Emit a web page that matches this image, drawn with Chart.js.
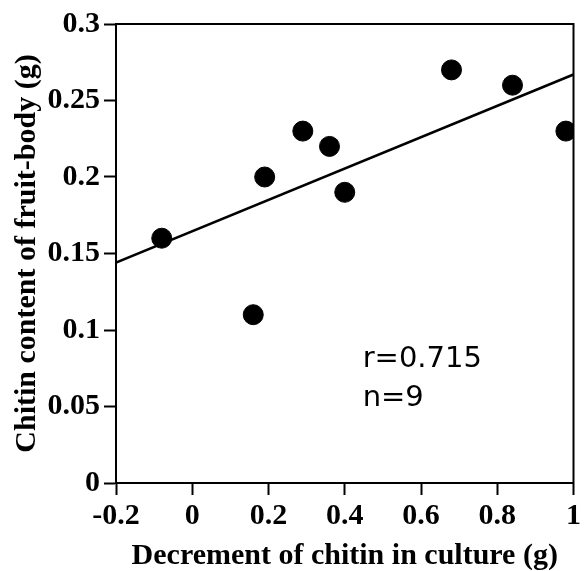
<!DOCTYPE html>
<html>
<head>
<meta charset="utf-8">
<script src="https://cdn.jsdelivr.net/npm/chart.js@4/dist/chart.umd.min.js"></script>
<style>
  html, body { margin: 0; padding: 0; background: #fff; }
  #wrap { width: 587px; height: 571px; }
</style>
</head>
<body>
<div id="wrap"><canvas id="chitinChart"></canvas></div>
<script>
// decrement of chitin in culture (g) vs chitin in fruit-body (g)
const decrementX = [-0.08, 0.16, 0.19, 0.29, 0.36, 0.40, 0.68, 0.84, 0.98];
const contentY = [0.16, 0.11, 0.20, 0.23, 0.22, 0.19, 0.27, 0.26, 0.23];

// fitted regression line end points
const fitX = [-0.2, 1];
const fitY = [0.144, 0.267];

const xTicks = [-0.2, 0, 0.2, 0.4, 0.6, 0.8, 1];
const yTicks = [0, 0.05, 0.1, 0.15, 0.2, 0.25, 0.3];

const statLines = ["r=0.715", "n=9"];
const statPos = { x: 0.447, y: 0.0758 };

const serif = "'Liberation Serif', 'Times New Roman', serif";

// box around the plot + stats text
const framePlugin = {
  id: "frame",
  afterDatasetsDraw(chart) {
    const { ctx, chartArea: a, scales } = chart;
    ctx.save();
    ctx.strokeStyle = "#000";
    ctx.lineWidth = 2;
    ctx.strokeRect(a.left, a.top, a.right - a.left, a.bottom - a.top);

    ctx.fillStyle = "#000";
    ctx.font = "29px 'DejaVu Sans', sans-serif";
    ctx.textBaseline = "alphabetic";
    ctx.textAlign = "left";
    const px = scales.x.getPixelForValue(statPos.x);
    const py = scales.y.getPixelForValue(statPos.y);
    statLines.forEach((t, i) => ctx.fillText(t, px, py + i * 39));
    ctx.restore();
  }
};

const ctx = document.getElementById("chitinChart").getContext("2d");
new Chart(ctx, {
  type: "scatter",
  data: {
    datasets: [
      {
        label: "fit",
        type: "line",
        data: fitX.map((x, i) => ({ x: x, y: fitY[i] })),
        borderColor: "#000",
        borderWidth: 2.5,
        pointRadius: 0,
        fill: false,
        order: 2
      },
      {
        label: "samples",
        data: decrementX.map((x, i) => ({ x: x, y: contentY[i] })),
        backgroundColor: "#000",
        borderColor: "#000",
        pointRadius: 10,
        pointHoverRadius: 10,
        order: 1
      }
    ]
  },
  options: {
    responsive: true,
    maintainAspectRatio: false,
    animation: false,
    layout: { padding: { top: 24, right: 10, left: 0, bottom: 0 } },
    plugins: {
      legend: { display: false },
      tooltip: { enabled: false }
    },
    scales: {
      x: {
        type: "linear",
        min: -0.2,
        max: 1,
        afterBuildTicks: s => { s.ticks = xTicks.map(v => ({ value: v })); },
        afterFit: s => { s.height = 88; },
        grid: { drawOnChartArea: false, tickLength: 12, tickColor: "#000", tickWidth: 2 },
        border: { color: "#000", width: 2 },
        ticks: {
          color: "#000",
          padding: 6,
          maxRotation: 0,
          font: { family: serif, size: 30, weight: "bold", lineHeight: 1 },
          callback: v => String(Math.round(v * 10) / 10)
        },
        title: {
          display: true,
          text: "Decrement of chitin in culture (g)",
          color: "#000",
          padding: { top: 10, bottom: 0 },
          font: { family: serif, size: 30, weight: "bold", lineHeight: 1 }
        }
      },
      y: {
        type: "linear",
        min: 0,
        max: 0.3,
        afterBuildTicks: s => { s.ticks = yTicks.map(v => ({ value: v })); },
        afterFit: s => { s.width = 116; },
        grid: { drawOnChartArea: false, tickLength: 12, tickColor: "#000", tickWidth: 2 },
        border: { color: "#000", width: 2 },
        ticks: {
          color: "#000",
          padding: 4,
          font: { family: serif, size: 30, weight: "bold", lineHeight: 1 },
          callback: v => String(Math.round(v * 100) / 100)
        },
        title: {
          display: true,
          text: "Chitin content of fruit-body (g)",
          color: "#000",
          padding: { top: 12, bottom: 0 },
          font: { family: serif, size: 30, weight: "bold", lineHeight: 1 }
        }
      }
    }
  },
  plugins: [framePlugin]
});
</script>
</body>
</html>
